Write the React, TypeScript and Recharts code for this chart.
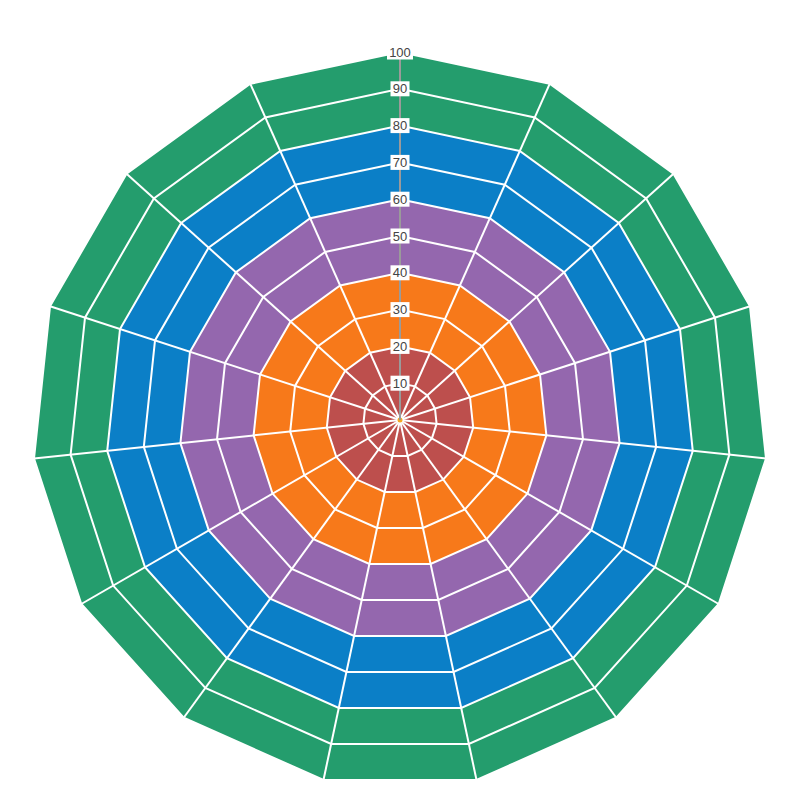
import { PolarAngleAxis, PolarRadiusAxis, Radar, RadarChart } from "recharts";

// 15 directions, five stacked bands of 20 each
const categories = ["1", "2", "3", "4", "5", "6", "7", "8", "9", "10", "11", "12", "13", "14", "15"];
const band1 = [20, 20, 20, 20, 20, 20, 20, 20, 20, 20, 20, 20, 20, 20, 20];
const band2 = [20, 20, 20, 20, 20, 20, 20, 20, 20, 20, 20, 20, 20, 20, 20];
const band3 = [20, 20, 20, 20, 20, 20, 20, 20, 20, 20, 20, 20, 20, 20, 20];
const band4 = [20, 20, 20, 20, 20, 20, 20, 20, 20, 20, 20, 20, 20, 20, 20];
const band5 = [20, 20, 20, 20, 20, 20, 20, 20, 20, 20, 20, 20, 20, 20, 20];
const radiusTicks = [0, 10, 20, 30, 40, 50, 60, 70, 80, 90, 100];

const bands = [band1, band2, band3, band4, band5];
const bandColors = ["#bd4f4d", "#f7791a", "#9467ae", "#0b7fc7", "#249d6d"];
const ringLevels = radiusTicks.filter((t) => t > 0);

const data = categories.map((name, i) => {
  const row: Record<string, string | number> = { name };
  let total = 0;
  bands.forEach((band, b) => {
    total += band[i];
    row[`s${b}`] = total;
  });
  // white grid rings every 10
  ringLevels.forEach((t) => {
    row[`r${t}`] = t;
  });
  return row;
});

function Spokes(props: any) {
  const { points } = props;
  if (!points || !points.length) return null;
  const { cx, cy } = points[0];
  return (
    <g>
      {points.map((p: any, i: number) => (
        <line key={i} x1={cx} y1={cy} x2={p.x} y2={p.y} stroke="#ffffff" strokeWidth={2} />
      ))}
      <circle cx={cx} cy={cy} r={2.5} fill="#f5a623" />
    </g>
  );
}

function RadiusTick(props: any) {
  const { x, y, payload } = props;
  if (!payload || payload.value === 0) return null;
  const label = String(payload.value);
  const w = label.length * 7 + 5;
  return (
    <g>
      <rect x={x - w / 2} y={y - 7.5} width={w} height={15} fill="#ffffff" />
      <text x={x} y={y} dy={4.5} textAnchor="middle" fontSize={13} fill="#444444" fontFamily="Helvetica, Arial, sans-serif">
        {label}
      </text>
    </g>
  );
}

export default function App() {
  return (
    <div style={{ position: "absolute", left: 0, top: 0, width: 800, height: 800, background: "#ffffff" }}>
      <RadarChart width={800} height={800} data={data} cx={400} cy={420} outerRadius={368} margin={{ top: 0, right: 0, bottom: 0, left: 0 }}>
        <PolarAngleAxis dataKey="name" tick={false} axisLine={false} tickLine={false} />
        {[4, 3, 2, 1, 0].map((b) => (
          <Radar
            key={`s${b}`}
            dataKey={`s${b}`}
            fill={bandColors[b]}
            fillOpacity={1}
            stroke="none"
            isAnimationActive={false}
          />
        ))}
        {ringLevels.map((t) => (
          <Radar
            key={`r${t}`}
            dataKey={`r${t}`}
            fill="none"
            fillOpacity={0}
            stroke="#ffffff"
            strokeWidth={2}
            isAnimationActive={false}
          />
        ))}
        <Radar dataKey="r100" shape={<Spokes />} isAnimationActive={false} />
        <PolarRadiusAxis
          angle={90}
          domain={[0, 100]}
          ticks={radiusTicks as any}
          tickCount={11}
          axisLine={{ stroke: "#9a9a9a", strokeWidth: 2 }}
          tickLine={false}
          tick={<RadiusTick />}
        />
      </RadarChart>
    </div>
  );
}
